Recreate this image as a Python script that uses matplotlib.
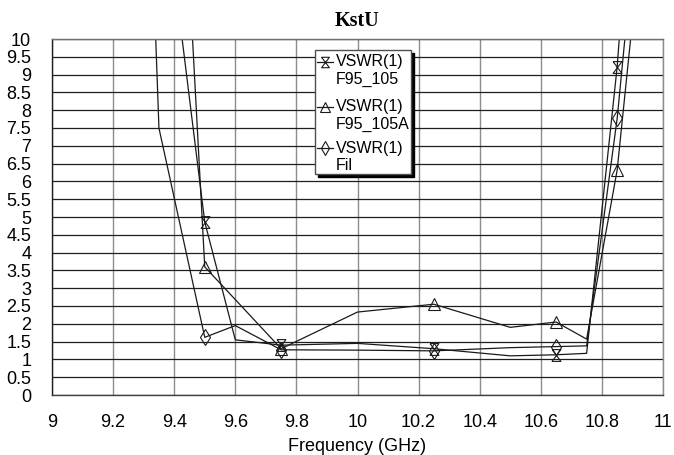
import matplotlib
matplotlib.use("Agg")
import matplotlib.pyplot as plt
from matplotlib.path import Path
from matplotlib.patches import Rectangle
from matplotlib.lines import Line2D

# ---- data ----
freq_105 = [9.40, 9.50, 9.60, 9.75, 10.00, 10.25, 10.50, 10.65, 10.75, 10.85, 10.90]
vswr_105 = [11.8, 4.86, 1.55, 1.40, 1.45, 1.30, 1.10, 1.13, 1.17, 9.22, 15.0]
marks_105 = [1, 3, 5, 7, 9]

freq_105a = [9.45, 9.50, 9.75, 10.00, 10.25, 10.50, 10.65, 10.75, 10.85, 10.90]
vswr_105a = [11.6, 3.60, 1.30, 2.33, 2.55, 1.90, 2.05, 1.57, 6.32, 10.5]
marks_105a = [1, 2, 4, 6, 8]

freq_fil = [9.30, 9.35, 9.50, 9.60, 9.75, 10.00, 10.25, 10.50, 10.65, 10.75, 10.85, 10.90]
vswr_fil = [19.5, 7.50, 1.62, 1.95, 1.27, 1.26, 1.24, 1.33, 1.36, 1.38, 7.77, 12.2]
marks_fil = [2, 4, 6, 8, 10]

labels = ["VSWR(1)\nF95_105", "VSWR(1)\nF95_105A", "VSWR(1)\nFil"]
x_ticks = [9, 9.2, 9.4, 9.6, 9.8, 10, 10.2, 10.4, 10.6, 10.8, 11]
x_tick_labels = ["9", "9.2", "9.4", "9.6", "9.8", "10", "10.2", "10.4", "10.6", "10.8", "11"]
y_ticks = [i * 0.5 for i in range(21)]
y_tick_labels = ["0", "0.5", "1", "1.5", "2", "2.5", "3", "3.5", "4", "4.5", "5",
                 "5.5", "6", "6.5", "7", "7.5", "8", "8.5", "9", "9.5", "10"]

# ---- markers ----
hourglass = Path([(-0.75, 1), (0.75, 1), (-0.75, -1), (0.75, -1), (-0.75, 1)],
                 [Path.MOVETO, Path.LINETO, Path.LINETO, Path.LINETO, Path.LINETO])

plt.rcParams["font.family"] = ["Liberation Sans", "DejaVu Sans"]

fig = plt.figure(figsize=(6.74, 4.55), dpi=100)
ax = fig.add_axes([52 / 674, 60 / 455, 611 / 674, 356 / 455])

line_kw = dict(color="#1a1a1a", linewidth=0.9, markerfacecolor="none",
               markeredgecolor="#1a1a1a", markeredgewidth=0.8, clip_on=True)
ax.plot(freq_105, vswr_105, marker=hourglass, markersize=8.5, markevery=marks_105, **line_kw)
ax.plot(freq_105a, vswr_105a, marker="^", markersize=8, markevery=marks_105a, **line_kw)
ax.plot(freq_fil, vswr_fil, marker="d", markersize=8.5, markevery=marks_fil, **line_kw)

ax.set_xlim(9, 11)
ax.set_ylim(0, 10)
ax.set_xticks(x_ticks)
ax.set_xticklabels(x_tick_labels)
ax.set_yticks(y_ticks)
ax.set_yticklabels(y_tick_labels)
ax.tick_params(axis="both", length=0, labelsize=13)
ax.tick_params(axis="x", pad=13.5)
ax.tick_params(axis="y", pad=15)
ax.set_axisbelow(True)
ax.xaxis.grid(True, color="#8c8c8c", linewidth=1.0)
ax.yaxis.grid(True, color="#1e1e1e", linewidth=0.9)
for side, col in {"top": "#707070", "right": "#8c8c8c", "left": "#1e1e1e", "bottom": "#404040"}.items():
    ax.spines[side].set_color(col)
    ax.spines[side].set_linewidth(1.0)

ax.set_xlabel("Frequency (GHz)", fontsize=13, labelpad=5)
ax.text(0.5, 1 + 17.5 / 356, "KstU", transform=ax.transAxes, ha="center", va="center",
        fontsize=14.5, fontweight="bold", family=["Liberation Serif", "DejaVu Serif"])

# ---- legend box drawn to match the old-style boxed legend ----
def ax_x(px):
    return (px - 52) / 611


def ax_y(py):
    return (395 - py) / 356


bx0, bx1, by0, by1 = 315, 411, 50, 174
ax.add_patch(Rectangle((ax_x(bx0 + 3), ax_y(by1 + 3)), ax_x(bx1) - ax_x(bx0),
                       ax_y(by0) - ax_y(by1), transform=ax.transAxes,
                       facecolor="black", edgecolor="black", zorder=5))
ax.add_patch(Rectangle((ax_x(bx0), ax_y(by1)), ax_x(bx1) - ax_x(bx0),
                       ax_y(by0) - ax_y(by1), transform=ax.transAxes,
                       facecolor="white", edgecolor="#505050", linewidth=1.0, zorder=6))

legend_markers = [(hourglass, 7.5), ("^", 7), ("d", 7.5)]
row_tops = [61.5, 106.5, 148]
for (mk, ms), lab, ry in zip(legend_markers, labels, row_tops):
    ax.add_line(Line2D([ax_x(317), ax_x(333)], [ax_y(ry), ax_y(ry)], transform=ax.transAxes,
                       color="#1a1a1a", linewidth=0.9, zorder=7))
    ax.add_line(Line2D([ax_x(325)], [ax_y(ry)], transform=ax.transAxes, marker=mk,
                       markersize=ms, markerfacecolor="none", markeredgecolor="#1a1a1a",
                       markeredgewidth=0.8, linestyle="none", zorder=7))
    first, second = lab.split("\n")
    ax.text(ax_x(336), ax_y(ry), first, transform=ax.transAxes, fontsize=11.5,
            va="center", ha="left", zorder=7)
    ax.text(ax_x(336), ax_y(ry + 17.6), second, transform=ax.transAxes, fontsize=11.5,
            va="center", ha="left", zorder=7)

fig.savefig("out.png", dpi=100)
